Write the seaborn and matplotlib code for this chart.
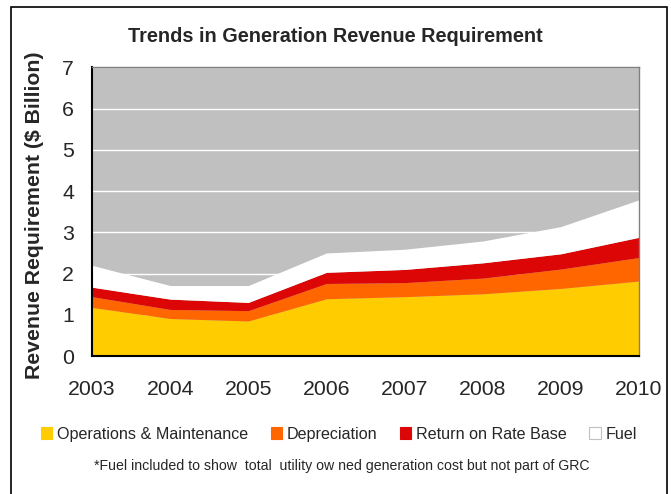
import matplotlib
matplotlib.use("Agg")
import matplotlib.pyplot as plt
from matplotlib.patches import Patch, Rectangle
import seaborn as sns
import pandas as pd

years = [2003, 2004, 2005, 2006, 2007, 2008, 2009, 2010]
om = [1.18, 0.91, 0.85, 1.39, 1.44, 1.51, 1.64, 1.82]
depreciation = [0.26, 0.22, 0.25, 0.37, 0.34, 0.38, 0.47, 0.57]
return_rate_base = [0.23, 0.25, 0.20, 0.27, 0.32, 0.37, 0.37, 0.49]
fuel = [0.53, 0.33, 0.41, 0.47, 0.49, 0.53, 0.66, 0.91]
series_names = ["Operations & Maintenance", "Depreciation", "Return on Rate Base", "Fuel"]
colors = ["#FFCC00", "#FF6600", "#DD0606", "#FFFFFF"]

df = pd.DataFrame({
    "year": years,
    series_names[0]: om,
    series_names[1]: depreciation,
    series_names[2]: return_rate_base,
    series_names[3]: fuel,
})

sns.set_style("white")
plt.rcParams["font.family"] = ["Liberation Sans", "DejaVu Sans"]

W, H = 671, 494
fig = plt.figure(figsize=(W / 100, H / 100), dpi=100)
ax = fig.add_axes([92 / W, 1 - 356 / H, (639 - 92) / W, (356 - 67.5) / H])

ax.set_facecolor("#C0C0C0")
ax.stackplot(df["year"], *[df[n] for n in series_names], colors=colors,
             labels=series_names, linewidth=0, zorder=2)

ax.set_xlim(2003, 2010)
ax.set_ylim(0, 7)
ax.set_yticks(range(0, 8))
ax.set_xticks(years)
ax.yaxis.grid(True, color="white", linewidth=1, zorder=1)
ax.set_axisbelow(True)
ax.tick_params(axis="both", labelsize=15.3, length=0)
ax.tick_params(axis="y", pad=13)
ax.tick_params(axis="x", pad=17)

for side in ["top", "right"]:
    ax.spines[side].set_color("#808080")
    ax.spines[side].set_linewidth(1.0)
for side in ["left", "bottom"]:
    ax.spines[side].set_color("black")
    ax.spines[side].set_linewidth(1.5)
for sp in ax.spines.values():
    sp.set_zorder(5)

ax.set_ylabel("Revenue Requirement ($ Billion)", fontsize=15.3, fontweight="bold")
ax.yaxis.set_label_coords(-0.088, 0.489)
fig.text(0.5, 1 - 36 / H, "Trends in Generation Revenue Requirement",
         ha="center", va="center", fontsize=14.3, fontweight="bold")

handles = [Patch(facecolor=c, edgecolor=("#C0C0C0" if c == "#FFFFFF" else c), linewidth=0.8)
           for c in colors]
fig.legend(handles, series_names, loc="center", bbox_to_anchor=(0.505, 1 - 434 / H),
           ncol=4, frameon=False, fontsize=11.6, handlelength=0.7, handleheight=0.7,
           handletextpad=0.3, columnspacing=1.4)

fig.text(0.51, 1 - 466 / H,
         "*Fuel included to show  total  utility ow ned generation cost but not part of GRC",
         ha="center", va="center", fontsize=10.2)

fig.patches.append(Rectangle((11 / W, -0.05), (667 - 11) / W, 1.05 - 7 / H,
                             transform=fig.transFigure, fill=False,
                             edgecolor="black", linewidth=1.2))

fig.savefig("out.png", dpi=100)
